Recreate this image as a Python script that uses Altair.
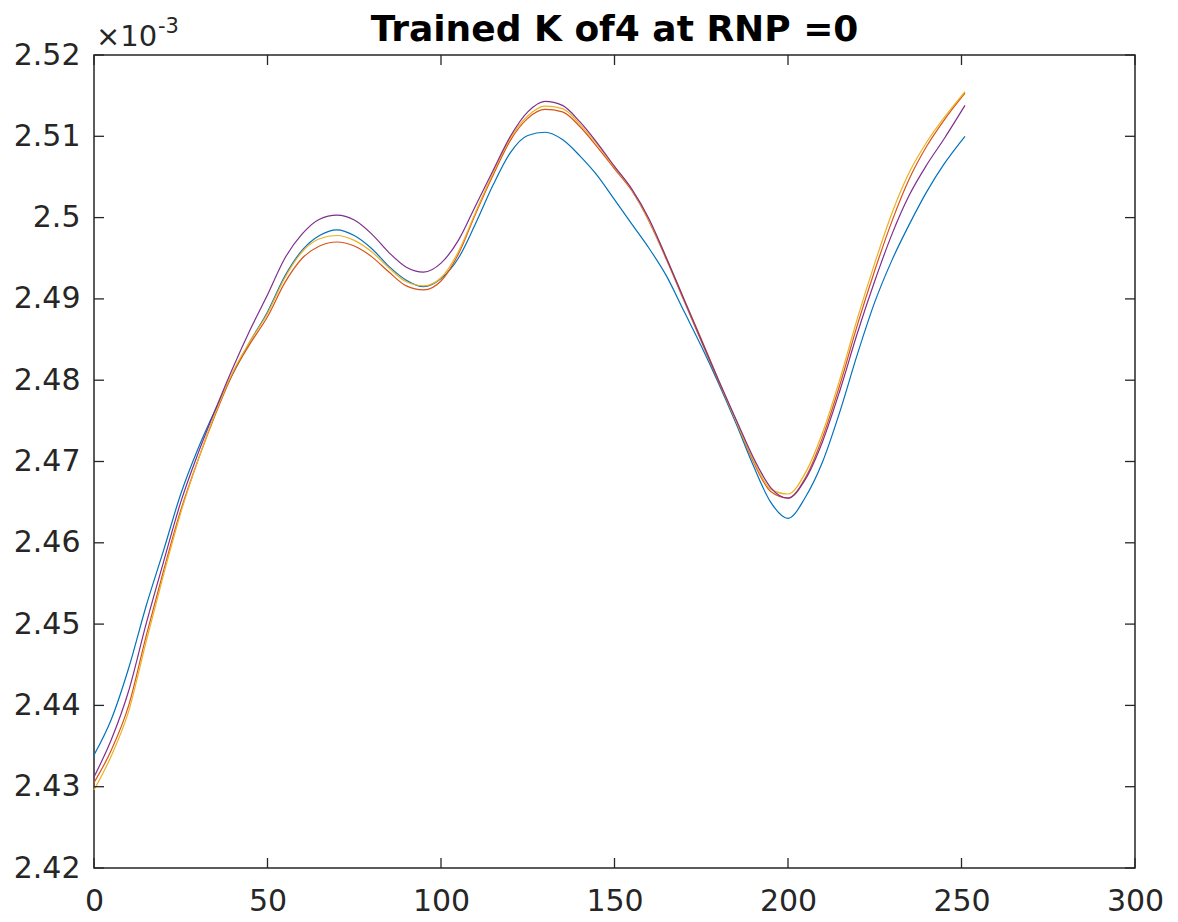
import altair as alt
import pandas as pd

x_vals = [0, 5, 10, 15, 20, 25, 30, 35, 40, 45, 50, 55, 60, 65, 70, 75, 80, 85, 90, 95,
          100, 105, 110, 115, 120, 125, 130, 135, 140, 145, 150, 155, 160, 165, 170, 175,
          180, 185, 190, 195, 200, 205, 210, 215, 220, 225, 230, 235, 240, 245, 251]

blue = [2.4339, 2.4383, 2.4446, 2.4522, 2.4590, 2.4660, 2.4716, 2.4764, 2.4808, 2.4848,
        2.4884, 2.4928, 2.4960, 2.4978, 2.4985, 2.4978, 2.4962, 2.4940, 2.4923, 2.4915,
        2.4925, 2.4950, 2.4993, 2.5040, 2.5080, 2.5101, 2.5105, 2.5096, 2.5076, 2.5052,
        2.5022, 2.4992, 2.4962, 2.4928, 2.4885, 2.4842, 2.4796, 2.4747, 2.4695, 2.4650,
        2.4630, 2.4656, 2.4700, 2.4762, 2.4832, 2.4896, 2.4948, 2.4992, 2.5032, 2.5066,
        2.5100]

orange = [2.4305, 2.4345, 2.4400, 2.4485, 2.4565, 2.4640, 2.4702, 2.4758, 2.4808, 2.4845,
          2.4878, 2.4920, 2.4950, 2.4965, 2.4970, 2.4965, 2.4952, 2.4933, 2.4916, 2.4911,
          2.4922, 2.4955, 2.5005, 2.5052, 2.5095, 2.5122, 2.5133, 2.5130, 2.5112, 2.5087,
          2.5060, 2.5033, 2.4995, 2.4948, 2.4898, 2.4848, 2.4798, 2.4750, 2.4700, 2.4663,
          2.4655, 2.4680, 2.4730, 2.4795, 2.4868, 2.4935, 2.4996, 2.5048, 2.5088, 2.5120,
          2.5153]

yellow = [2.4296, 2.4338, 2.4393, 2.4478, 2.4560, 2.4637, 2.4702, 2.4760, 2.4810, 2.4848,
          2.4882, 2.4926, 2.4958, 2.4974, 2.4978, 2.4972, 2.4958, 2.4938, 2.4921, 2.4916,
          2.4926, 2.4958, 2.5007, 2.5055, 2.5098, 2.5125, 2.5137, 2.5134, 2.5115, 2.5090,
          2.5062, 2.5034, 2.4996, 2.4950, 2.4900, 2.4851, 2.4800, 2.4750, 2.4702, 2.4666,
          2.4660, 2.4686, 2.4736, 2.4802, 2.4876, 2.4944, 2.5006, 2.5056, 2.5093, 2.5123,
          2.5155]

purple = [2.4312, 2.4358, 2.4418, 2.4500, 2.4576, 2.4650, 2.4710, 2.4764, 2.4815, 2.4862,
          2.4905, 2.4950, 2.4980, 2.4998, 2.5003, 2.4997, 2.4980, 2.4957, 2.4939, 2.4933,
          2.4944, 2.4972, 2.5015, 2.5058, 2.5100, 2.5130, 2.5143, 2.5138, 2.5118, 2.5092,
          2.5063, 2.5035, 2.4998, 2.4950, 2.4900, 2.4850, 2.4800, 2.4752, 2.4705, 2.4668,
          2.4655, 2.4678, 2.4725, 2.4788, 2.4858, 2.4922, 2.4980, 2.5028, 2.5065, 2.5097,
          2.5138]

series_names = ["Series 1", "Series 2", "Series 3", "Series 4"]
series_values = [blue, orange, yellow, purple]
colors = ["#0072BD", "#D95319", "#EDB120", "#7E2F8E"]

x_ticks = [0, 50, 100, 150, 200, 250, 300]
y_ticks = [2.42, 2.43, 2.44, 2.45, 2.46, 2.47, 2.48, 2.49, 2.50, 2.51, 2.52]

title_text = "Trained K of4 at RNP =0"
exp_base = "×10"
exp_power = "-3"

W, H = 1041, 813
AX = "#262626"
FONT = "DejaVu Sans"

rows = []
for name, vals in zip(series_names, series_values):
    for xv, yv in zip(x_vals, vals):
        rows.append({"x": xv, "y": yv, "series": name})
df = pd.DataFrame(rows)

x_enc = alt.X("x:Q", scale=alt.Scale(domain=[0, 300], nice=False, zero=False),
              axis=alt.Axis(values=x_ticks, title=None, format="d", labelPadding=18,
                            labelFlush=False, labelOverlap=False, labelBound=False))
y_enc = alt.Y("y:Q", scale=alt.Scale(domain=[2.42, 2.52], nice=False, zero=False),
              axis=alt.Axis(values=y_ticks, title=None, format=".2~f", labelPadding=14,
                            labelFlush=False, labelOverlap=False, labelBound=False))

lines = alt.Chart(df).mark_line(strokeWidth=1.2, interpolate="monotone").encode(
    x=x_enc, y=y_enc,
    color=alt.Color("series:N", scale=alt.Scale(domain=series_names, range=colors), legend=None),
)

xt = pd.DataFrame({"x": x_ticks})
yt = pd.DataFrame({"y": y_ticks})

tick_top = alt.Chart(xt).mark_rule(color=AX, strokeWidth=1.3).encode(
    x=x_enc, y=alt.value(0), y2=alt.value(10))
tick_bot = alt.Chart(xt).mark_rule(color=AX, strokeWidth=1.3).encode(
    x=x_enc, y=alt.value(H), y2=alt.value(H - 10))
tick_left = alt.Chart(yt).mark_rule(color=AX, strokeWidth=1.3).encode(
    y=y_enc, x=alt.value(0), x2=alt.value(10))
tick_right = alt.Chart(yt).mark_rule(color=AX, strokeWidth=1.3).encode(
    y=y_enc, x=alt.value(W), x2=alt.value(W - 10))

title = alt.Chart(pd.DataFrame({"t": [title_text]})).mark_text(
    font=FONT, fontSize=36, fontWeight="bold", color="#000000",
    align="center", baseline="alphabetic").encode(
    text="t:N", x=alt.value(W / 2), y=alt.value(-14))

exp1 = alt.Chart(pd.DataFrame({"t": [exp_base]})).mark_text(
    font=FONT, fontSize=29, color=AX, align="left", baseline="alphabetic").encode(
    text="t:N", x=alt.value(2), y=alt.value(-9))
exp2 = alt.Chart(pd.DataFrame({"t": [exp_power]})).mark_text(
    font=FONT, fontSize=21, color=AX, align="left", baseline="alphabetic").encode(
    text="t:N", x=alt.value(64), y=alt.value(-22))

chart = alt.layer(lines, tick_top, tick_bot, tick_left, tick_right, title, exp1, exp2).properties(
    width=W, height=H,
    autosize=alt.AutoSizeParams(type="none"),
    padding={"left": 86, "top": 47, "right": 35, "bottom": 54},
    background="#ffffff",
).configure_view(
    stroke=AX, strokeWidth=1.5
).configure_axis(
    labelFont=FONT, labelFontSize=30, labelColor=AX,
    grid=False, domain=False, ticks=False,
)

chart.save("out.html", embed_options={"renderer": "svg", "actions": False})
